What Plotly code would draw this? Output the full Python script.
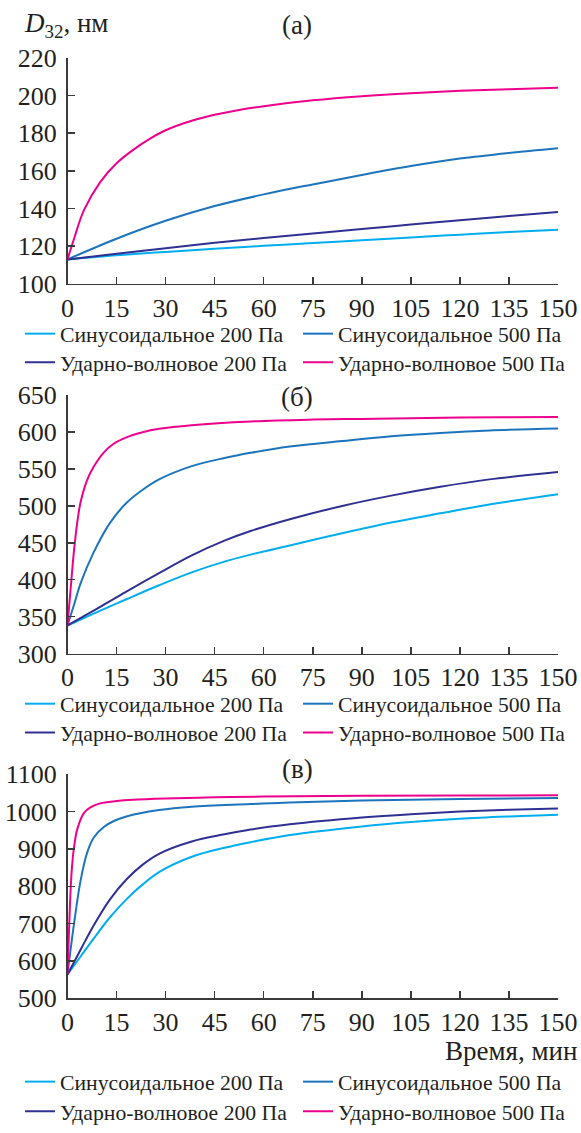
import plotly.graph_objects as go

# ---------------- data ----------------
names = ["Синусоидальное 200 Па", "Синусоидальное 500 Па",
         "Ударно-волновое 200 Па", "Ударно-волновое 500 Па"]
colors = ["#00aeef", "#1c75bc", "#2e3192", "#ec008c"]

x_ticks = [0, 15, 30, 45, 60, 75, 90, 105, 120, 135, 150]

# panel (а)
ta_sin200 = [0, 15, 30, 45, 60, 75, 90, 105, 120, 135, 150]
a_sin200 = [113, 115.2, 117, 118.7, 120.2, 121.7, 123.2, 124.7, 126.1, 127.5, 128.8]
ta_sin500 = [0, 15, 30, 45, 60, 75, 90, 105, 120, 135, 150]
a_sin500 = [113, 124, 133.5, 141.3, 147.5, 152.8, 157.8, 162.5, 166.5, 169.5, 172]
ta_sw200 = [0, 15, 30, 45, 60, 75, 90, 105, 120, 135, 150]
a_sw200 = [113, 116, 119, 121.8, 124.4, 126.8, 129.2, 131.5, 133.8, 136, 138.2]
ta_sw500 = [0, 2, 5, 10, 15, 20, 25, 30, 37.5, 45, 52.5, 60, 75, 90, 105, 120, 135, 150]
a_sw500 = [113, 124, 139, 154, 164, 171, 176.8, 181.5, 186.3, 189.7, 192.3, 194.3,
           197.4, 199.6, 201.2, 202.4, 203.3, 204]

# panel (б)
tb_sin200 = [0, 8, 18, 28, 38, 48, 56, 68, 84, 99, 114, 129, 150]
b_sin200 = [338, 354, 373.5, 392.5, 410, 424.5, 434, 446.5, 463, 477.5, 490, 502, 516]
tb_sin500 = [0, 2, 4, 8, 13, 18, 23, 28, 38, 48, 56, 68, 84, 99, 114, 129, 150]
b_sin500 = [338, 366, 395, 437, 477, 504, 522, 536, 554, 565, 572, 580.5, 588, 594.5, 599, 602.4, 605]
tb_sw200 = [0, 8, 18, 28, 38, 48, 56, 68, 84, 99, 114, 129, 150]
b_sw200 = [338, 358, 384, 409, 433, 453, 466, 482, 500, 514, 526, 536, 546]
tb_sw500 = [0, 1, 2, 3, 4, 6, 8, 11, 14, 18, 23, 28, 38, 56, 75, 90, 105, 120, 135, 150]
b_sw500 = [338, 390, 440, 478, 505, 535, 553, 572, 584, 593, 600, 604.5, 609.5, 614.5,
           617, 618, 619, 619.8, 620.3, 620.7]

# panel (в)
tc_sin200 = [0, 4, 8, 13, 18, 23, 28, 38, 48, 56, 68, 90, 105, 120, 135, 150]
c_sin200 = [564, 612, 660, 717, 765, 805, 838, 879, 903, 918, 937, 960, 972, 981, 987, 991.5]
tc_sin500 = [0, 2, 4, 6, 8, 11, 14, 18, 28, 38, 56, 68, 90, 120, 150]
c_sin500 = [564, 700, 815, 890, 930, 958, 974, 987, 1004, 1013, 1020, 1024.5, 1029.5, 1033.5, 1036.5]
tc_sw200 = [0, 4, 8, 13, 18, 23, 28, 38, 48, 56, 68, 90, 105, 120, 135, 150]
c_sw200 = [564, 630, 695, 765, 818, 858, 887, 920, 939, 952, 966, 984, 993, 1000, 1005, 1008.5]
tc_sw500 = [0, 0.5, 1, 1.5, 2, 3, 5, 7, 10, 15, 20, 30, 45, 60, 90, 120, 150]
c_sw500 = [564, 690, 800, 865, 905, 953, 996, 1011, 1022, 1028, 1031.5, 1035, 1038, 1040,
           1042, 1043, 1043.5]

panels = [
    dict(series=[(ta_sin200, a_sin200), (ta_sin500, a_sin500), (ta_sw200, a_sw200), (ta_sw500, a_sw500)],
         yticks=[100, 120, 140, 160, 180, 200, 220], title="(а)"),
    dict(series=[(tb_sin200, b_sin200), (tb_sin500, b_sin500), (tb_sw200, b_sw200), (tb_sw500, b_sw500)],
         yticks=[300, 350, 400, 450, 500, 550, 600, 650], title="(б)"),
    dict(series=[(tc_sin200, c_sin200), (tc_sin500, c_sin500), (tc_sw200, c_sw200), (tc_sw500, c_sw500)],
         yticks=[500, 600, 700, 800, 900, 1000, 1100], title="(в)"),
]

# ---------------- layout geometry (pixels) ----------------
W, H = 581, 1133
x0_px, x1_px = 67.5, 558
ydom_px = [(287, 58.3), (660.5, 399.5), (1009, 782.5)]   # (bottom, top)
title_y_px = [25, 401, 777]
legend_row_px = [(337, 366), (711, 740), (1093, 1123)]   # centres of legend rows
LEG_FS = 21.7
leg_half = (LEG_FS * 1.3 + 3) / 2 + 5


def px_x(v):
    return v / W


def px_y(v):
    return 1 - v / H


TXT = "#231f20"
AX = "#3a3a3a"
FONT = "Liberation Serif, Times New Roman, serif"

fig = go.Figure()

for i, p in enumerate(panels):
    xa = "x" if i == 0 else f"x{i+1}"
    ya = "y" if i == 0 else f"y{i+1}"
    for j, (tt, vv) in enumerate(p["series"]):
        row = j // 2
        leg_n = 2 * i + row + 1
        leg_id = "legend" if leg_n == 1 else f"legend{leg_n}"
        fig.add_trace(go.Scatter(
            x=tt, y=vv, mode="lines", name=names[j],
            line=dict(color=colors[j], width=2, shape="spline", smoothing=1.0),
            xaxis=xa, yaxis=ya, legend=leg_id, showlegend=True,
        ))

layout = dict(
    template="none",
    width=W, height=H, autosize=False,
    margin=dict(l=0, r=0, t=0, b=0, pad=0),
    paper_bgcolor="white", plot_bgcolor="white",
    font=dict(family=FONT, color=TXT, size=26),
    annotations=[],
)

for i, p in enumerate(panels):
    sfx = "" if i == 0 else str(i + 1)
    bot, top = ydom_px[i]
    layout["xaxis" + sfx] = dict(
        domain=[px_x(x0_px), px_x(x1_px)], range=[0, 150], anchor="y" + sfx,
        automargin=False,
        tickmode="array", tickvals=x_ticks, ticktext=[str(v) for v in x_ticks],
        ticks="inside", ticklen=7, tickwidth=1.5, tickcolor=AX,
        showline=True, linecolor=AX, linewidth=1.5,
        showgrid=False, zeroline=False, tickangle=0,
        tickfont=dict(family=FONT, size=26, color=TXT),
        ticklabelstandoff=0,
    )
    layout["yaxis" + sfx] = dict(
        domain=[px_y(bot), px_y(top)], range=[p["yticks"][0], p["yticks"][-1]],
        anchor="x" + sfx, automargin=False,
        tickmode="array", tickvals=p["yticks"], ticktext=[str(v) for v in p["yticks"]],
        ticks="inside", ticklen=7, tickwidth=1.5, tickcolor=AX,
        showline=True, linecolor=AX, linewidth=1.5,
        showgrid=False, zeroline=False,
        tickfont=dict(family=FONT, size=26, color=TXT),
        ticklabelstandoff=4,
    )
    for r in range(2):
        leg_n = 2 * i + r + 1
        leg_id = "legend" if leg_n == 1 else f"legend{leg_n}"
        layout[leg_id] = dict(
            x=px_x(20), y=px_y(legend_row_px[i][r] - leg_half), xanchor="left", yanchor="top",
            orientation="h", entrywidth=233, entrywidthmode="pixels",
            font=dict(family=FONT, size=LEG_FS, color=TXT),
            bgcolor="rgba(0,0,0,0)", borderwidth=0, traceorder="normal",
        )
    layout["annotations"].append(dict(
        text=p["title"], x=px_x(297), y=px_y(title_y_px[i]), xref="paper", yref="paper",
        xanchor="center", yanchor="middle", showarrow=False,
        font=dict(family=FONT, size=27, color=TXT)))

layout["annotations"].append(dict(
    text="<i>D</i><sub>32</sub>, нм", x=px_x(22), y=px_y(25), xref="paper", yref="paper",
    xanchor="left", yanchor="middle", showarrow=False,
    font=dict(family=FONT, size=27, color=TXT)))
layout["annotations"].append(dict(
    text="Время, мин", x=px_x(578), y=px_y(1062), xref="paper", yref="paper",
    xanchor="right", yanchor="middle", showarrow=False, borderpad=0,
    font=dict(family=FONT, size=27, color=TXT)))

fig.update_layout(**layout)
fig.write_html("out.html",
               config={"displayModeBar": False, "staticPlot": True},
               post_script="document.body.style.margin='0';"
                           "document.documentElement.style.overflow='hidden';")
